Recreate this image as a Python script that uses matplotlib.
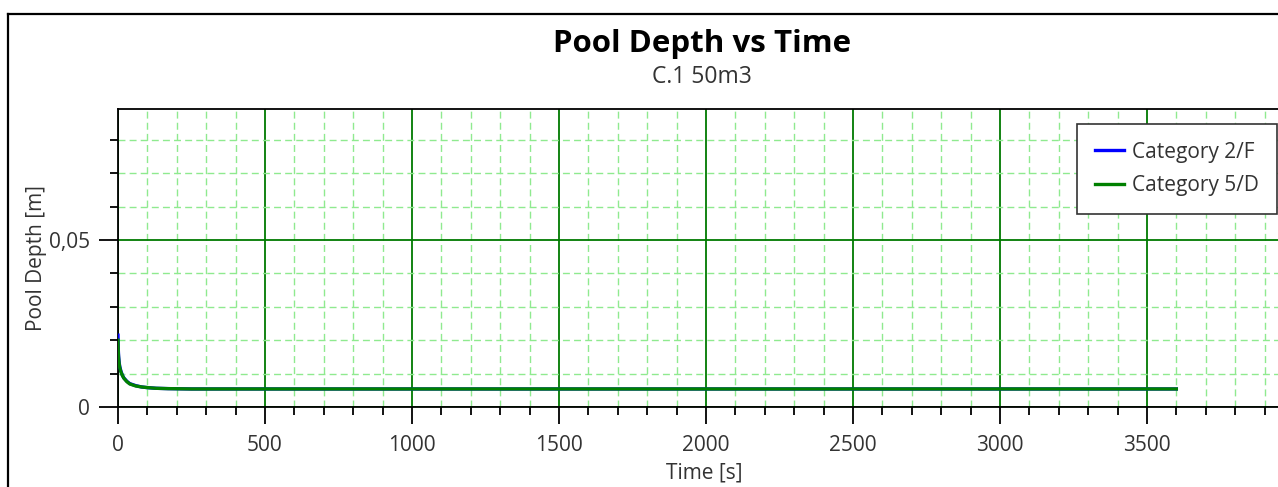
import matplotlib
matplotlib.use("Agg")
import matplotlib.pyplot as plt
from matplotlib.ticker import MultipleLocator, FuncFormatter
from matplotlib.lines import Line2D

plt.rcParams['font.family'] = ['Open Sans', 'DejaVu Sans']

# ── Datos ────────────────────────────────────────────────────────────────
t_cat2 = [0, 1, 2, 4, 6, 10, 15, 20, 30, 40, 60, 80, 100, 130, 170, 250, 400, 700, 1200, 2000, 3600]
d_cat2 = [0.0215, 0.0172, 0.0153, 0.0133, 0.0121, 0.0107, 0.0095, 0.0087, 0.0077, 0.0070,
          0.0064, 0.0060, 0.0058, 0.0056, 0.0055, 0.0054, 0.0054, 0.0054, 0.0054, 0.0054, 0.0054]
t_cat5 = [0, 1, 2, 4, 6, 10, 15, 20, 30, 40, 60, 80, 100, 130, 170, 250, 400, 700, 1200, 2000, 3600]
d_cat5 = [0.0200, 0.0163, 0.0147, 0.0129, 0.0118, 0.0105, 0.0094, 0.0086, 0.0076, 0.0069,
          0.0063, 0.0060, 0.0058, 0.0056, 0.0055, 0.0054, 0.0054, 0.0054, 0.0054, 0.0054, 0.0054]

series_names = ["Category 2/F", "Category 5/D"]
series_colors = ["#0000ff", "#008000"]

titulo = "Pool Depth vs Time"
subtitulo = "C.1 50m3"

# ── Figura ───────────────────────────────────────────────────────────────
W, H = 1278, 487
fig = plt.figure(figsize=(W / 100, H / 100), dpi=100)

x0, x1 = 118, 1291
y0, y1 = 109, 407
ax = fig.add_axes([x0 / W, 1 - y1 / H, (x1 - x0) / W, (y1 - y0) / H])

ax.plot(t_cat2, d_cat2, color=series_colors[0], lw=2.4, label=series_names[0], zorder=3)
ax.plot(t_cat5, d_cat5, color=series_colors[1], lw=2.4, label=series_names[1], zorder=4)

ax.set_xlim(0, 3990)
ax.set_ylim(0, 0.0892)

ax.xaxis.set_major_locator(MultipleLocator(500))
ax.xaxis.set_minor_locator(MultipleLocator(100))
ax.yaxis.set_major_locator(MultipleLocator(0.05))
ax.yaxis.set_minor_locator(MultipleLocator(0.01))
ax.yaxis.set_major_formatter(FuncFormatter(lambda v, p: "0" if v == 0 else f"{v:.2f}".replace(".", ",")))

ax.grid(which="minor", color="#8fea8f", ls=(0, (5, 3)), lw=1.0, zorder=0)
ax.grid(which="major", color="#007a00", ls="-", lw=1.3, zorder=1)

ax.tick_params(which="major", length=12, width=1.3, color="black", labelsize=15,
               labelcolor="#333333")
ax.tick_params(axis="x", which="major", pad=8)
ax.tick_params(axis="y", which="major", length=14, pad=6)
ax.tick_params(which="minor", length=6, width=1.3, color="black")

for s in ["top", "left", "bottom"]:
    ax.spines[s].set_linewidth(1.3)
ax.spines["right"].set_visible(False)

ax.set_xlabel("Time [s]", fontsize=15, color="#333333", labelpad=5)
ax.set_ylabel("Pool Depth [m]", fontsize=15, color="#333333")
ax.yaxis.set_label_coords((47 - x0) / (x1 - x0), 0.5)

leg = ax.legend(loc="upper left", bbox_to_anchor=((1077 - x0) / (x1 - x0), 1 - (124 - y0) / (y1 - y0)),
                fontsize=15, frameon=True, fancybox=False, borderpad=0.85, handlelength=1.4,
                handletextpad=0.4, labelspacing=0.6, framealpha=1, borderaxespad=0)
leg.get_frame().set_edgecolor("#333333")
leg.get_frame().set_linewidth(1.2)
for txt in leg.get_texts():
    txt.set_color("#333333")

fig.text(702 / W, 1 - 52 / H, titulo, ha="center", va="baseline",
         fontsize=22.5, fontweight="bold", color="black")
fig.text(702 / W, 1 - 83 / H, subtitulo, ha="center", va="baseline",
         fontsize=16.5, color="#333333")

# marco exterior de la captura
fig.add_artist(Line2D([8 / W, 8 / W], [1 - 14 / H, -0.1], transform=fig.transFigure,
                      color="black", lw=1.6))
fig.add_artist(Line2D([8 / W, 1.1], [1 - 14 / H, 1 - 14 / H], transform=fig.transFigure,
                      color="black", lw=1.6))

fig.savefig("out.png", dpi=100)
